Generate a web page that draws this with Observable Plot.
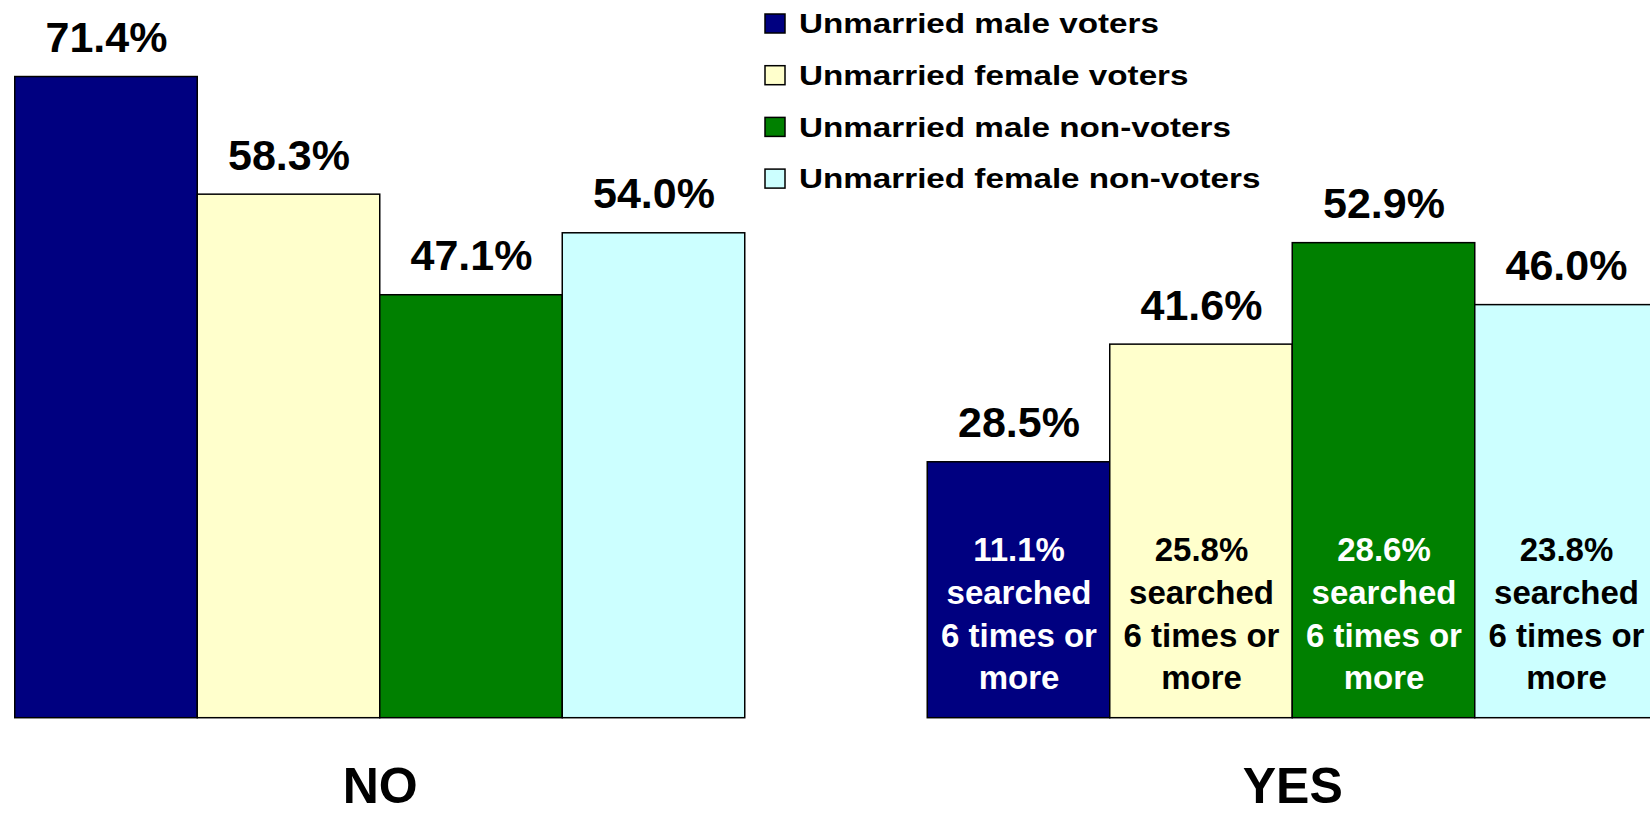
<!DOCTYPE html>
<html><head><meta charset="utf-8">
<script src="https://cdn.jsdelivr.net/npm/d3@7"></script>
<script src="https://cdn.jsdelivr.net/npm/@observablehq/plot@0.6"></script>
<style>
html,body{margin:0;padding:0;background:#fff;}
#wrap{position:relative;width:1650px;height:813px;overflow:hidden;}
#legend{position:absolute;left:0;top:0;pointer-events:none;}
</style></head><body><div id="wrap"></div>
<script>
const categories = ["NO", "YES"];
const seriesNames = ["Unmarried male voters", "Unmarried female voters", "Unmarried male non-voters", "Unmarried female non-voters"];
const seriesColors = ["#000080", "#FFFFCC", "#008000", "#CCFFFF"];
const darkSeries = ["Unmarried male voters", "Unmarried male non-voters"];
const noValues = [71.4, 58.3, 47.1, 54.0];
const yesValues = [28.5, 41.6, 52.9, 46.0];
const searchedValues = [11.1, 25.8, 28.6, 23.8];
const searchedText = "searched\n6 times or\nmore";

const bars = [];
categories.forEach((c, ci) => {
  const vals = ci === 0 ? noValues : yesValues;
  seriesNames.forEach((s, si) => bars.push({group: c, series: s, value: vals[si]}));
});
const inner = seriesNames.map((s, si) => ({group: "YES", series: s, searched: searchedValues[si]}));

const font = '"Liberation Sans", Arial, Helvetica, sans-serif';
const innerOpts = (fill, test) => ({
  filter: test, fx: "group", x: "series", y: d => 0,
  text: d => d.searched.toFixed(1) + "%\n" + searchedText,
  lineAnchor: "bottom", lineHeight: 1.29, dy: -29,
  fontSize: 33, fontWeight: "bold", fill
});

const chart = Plot.plot({
  width: 1650, height: 813,
  marginTop: 0, marginRight: 0, marginBottom: 0, marginLeft: 0,
  style: {fontFamily: font, background: "#fff", overflow: "hidden"},
  fx: {domain: categories, range: [-76.5, 1748.5], paddingInner: 0, paddingOuter: 0, axis: null, round: false},
  x: {domain: seriesNames, paddingInner: 0, paddingOuter: 0.5, axis: null, round: false},
  y: {domain: [0, 80], range: [717.7, 717.7 - 80 * 8.98], axis: null},
  color: {domain: seriesNames, range: seriesColors},
  marks: [
    Plot.barY(bars, {fx: "group", x: "series", y: "value", fill: "series", stroke: "#000", strokeWidth: 1.5}),
    Plot.text(bars, {fx: "group", x: "series", y: "value", text: d => d.value.toFixed(1) + "%",
      lineAnchor: "bottom", dy: -25, fontSize: 43, fontWeight: "bold", fill: "#000"}),
    Plot.text(inner, innerOpts("#fff", d => darkSeries.includes(d.series))),
    Plot.text(inner, innerOpts("#000", d => !darkSeries.includes(d.series))),
    Plot.text(categories, {fx: d => d, text: d => d, frameAnchor: "bottom", lineAnchor: "bottom",
      dy: -11, fontSize: 50, fontWeight: "bold", fill: "#000"})
  ]
});
const wrap = document.getElementById("wrap");
wrap.appendChild(chart);

// Legend overlay
const leg = d3.select(wrap).append("svg").attr("id", "legend")
  .attr("width", 1650).attr("height", 813);
const rows = leg.selectAll("g").data(seriesNames).join("g")
  .attr("transform", (d, i) => `translate(0,${33.3 + i * 51.7})`);
rows.append("rect").attr("x", 765).attr("y", -19.3).attr("width", 20).attr("height", 19)
  .attr("fill", (d, i) => seriesColors[i]).attr("stroke", "#000").attr("stroke-width", 1.5);
rows.append("text").attr("transform", "translate(799,0) scale(1.195,1)")
  .attr("font-family", font).attr("font-size", 27.8).attr("font-weight", "bold")
  .attr("fill", "#000").text(d => d);
</script></body></html>
